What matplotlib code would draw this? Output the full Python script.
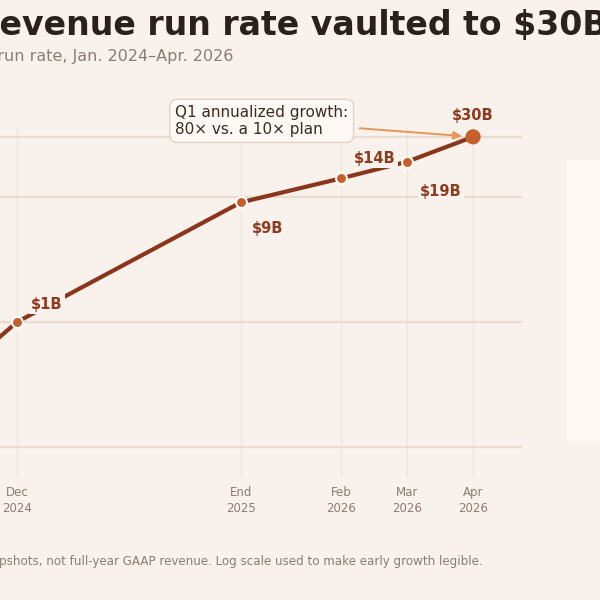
import matplotlib
matplotlib.use("Agg")
import matplotlib.pyplot as plt
from matplotlib.patches import Rectangle

# ---- data ----
periods = ["Jan\n2024", "Dec\n2024", "End\n2025", "Feb\n2026", "Mar\n2026", "Apr\n2026"]
x_pos = [-2.2, 0.0, 3.39, 4.91, 5.91, 6.91]
run_rate_b = [0.1, 1.0, 9.0, 14.0, 19.0, 30.0]
value_labels = ["$0.1B", "$1B", "$9B", "$14B", "$19B", "$30B"]
label_offsets_px = [(0, 0), (30, 18), (27, -26), (34, 20), (34, -30), (0, 21)]
y_ticks = [0.1, 1, 10, 30]

BG = "#f9f1ec"
LINE = "#8a361a"
DOT = "#c4602b"
LABEL = "#8f3a1d"
GRID = "#e9dcd3"
VGRID = "#efe4dc"
TITLE = "#2b211c"
GRAY = "#8a7d76"

W, H = 600, 600
fig = plt.figure(figsize=(6, 6), dpi=100, facecolor=BG)
renderer = fig.canvas.get_renderer()

def fx(px):
    return px / W

def fy(py):
    return 1 - py / H

def text_w(s, **kw):
    t = fig.text(0, 0, s, **kw)
    w = t.get_window_extent(renderer=renderer).width
    t.remove()
    return w

# axes: left edge off-canvas
ax_left, ax_right, ax_top, ax_bottom = -180, 522, 128, 478
ax = fig.add_axes([fx(ax_left), fy(ax_bottom), fx(ax_right - ax_left), (ax_bottom - ax_top) / H])
ax.set_facecolor(BG)

ax.set_xlim((ax_left - 17) / 66, (ax_right - 17) / 66)
ax.set_yscale("log")
ax.set_ylim(0.057, 35.3)

for s in ax.spines.values():
    s.set_visible(False)

ax.set_yticks(y_ticks)
ax.set_yticklabels([])
ax.yaxis.set_minor_locator(matplotlib.ticker.NullLocator())
ax.tick_params(axis="y", length=0)
ax.set_xticks(x_pos[1:])
ax.set_xticklabels(periods[1:], fontsize=8.5, color=GRAY, linespacing=1.25)
ax.tick_params(axis="x", length=0, pad=6)

ax.grid(axis="y", color=GRID, lw=1.6, zorder=0)
ax.grid(axis="x", color=VGRID, lw=0.8, zorder=0)

ax.plot(x_pos, run_rate_b, color=LINE, lw=3.0, zorder=3, solid_capstyle="round")
ax.scatter(x_pos[:-1], run_rate_b[:-1], s=62, color=DOT, edgecolor="white", linewidth=1.4, zorder=4)
ax.scatter(x_pos[-1:], run_rate_b[-1:], s=120, color=DOT, edgecolor="none", zorder=4)

for xv, yv, lab, off in zip(x_pos, run_rate_b, value_labels, label_offsets_px):
    if off == (0, 0):
        continue
    ax.annotate(lab, (xv, yv), xytext=off, textcoords="offset pixels",
                ha="center", va="center", fontsize=10.5, fontweight="bold", color=LABEL,
                bbox=dict(boxstyle="square,pad=0.15", fc=BG, ec="none"), zorder=5)

# callout
ax.annotate("Q1 annualized growth:\n80× vs. a 10× plan",
            xy=(x_pos[-1], run_rate_b[-1]), xytext=(-298, 16), textcoords="offset pixels",
            ha="left", va="center", fontsize=11, color="#3a2c25", linespacing=1.2,
            bbox=dict(boxstyle="round,pad=0.35,rounding_size=0.5", fc="#fdf8f4", ec="#e2d2c7", lw=1),
            arrowprops=dict(arrowstyle="-|>", color="#e8955a", lw=1.4, mutation_scale=12,
                            shrinkA=4, shrinkB=8), zorder=6)

# right side panel (cut off)
fig.patches.append(Rectangle((fx(567), fy(441)), fx(40), (441 - 160) / H,
                             transform=fig.transFigure, fc="#fef8f3", ec="none", zorder=0))

# title: fit so that "evenue run rate vaulted to " spans 0..515 px
title_full = "Revenue run rate vaulted to $30B"
lead = "R"
vis = "evenue run rate vaulted to "
base = dict(fontweight="bold")
w_vis = text_w(vis + "$", **base, fontsize=20) - text_w("$", **base, fontsize=20)
fs_title = 20 * 515 / w_vis
w_lead = text_w(lead + "e", **base, fontsize=fs_title) - text_w("e", **base, fontsize=fs_title)
fig.text(fx(-w_lead), fy(25), title_full, ha="left", va="center",
         fontsize=fs_title, fontweight="bold", color=TITLE)

fig.text(fx(233), fy(57), "Annualized run rate, Jan. 2024–Apr. 2026", ha="right", va="center",
         fontsize=11.5, color=GRAY)

# footnote: fit so that "pshots, ... legible." spans 0..483 px
foot_full = "Note: run-rate figures are annualized snapshots, not full-year GAAP revenue. Log scale used to make early growth legible."
foot_vis = "pshots, not full-year GAAP revenue. Log scale used to make early growth legible."
fs_foot = 9 * 483 / text_w(foot_vis, fontsize=9)
fig.text(fx(483), fy(561), foot_full, ha="right", va="center", fontsize=fs_foot, color=GRAY)

fig.savefig("out.png", dpi=100, facecolor=BG)
